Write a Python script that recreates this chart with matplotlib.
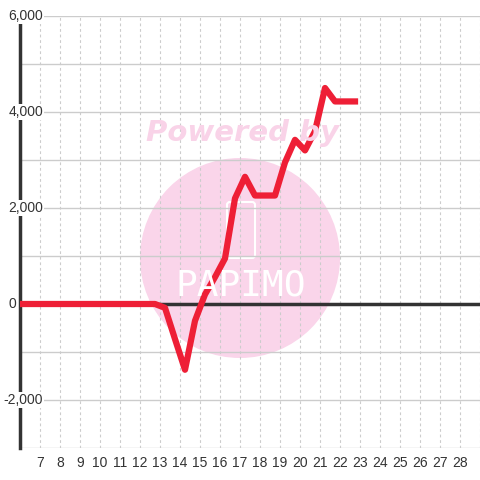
import numpy as np
import matplotlib.pyplot as plt
from matplotlib.patches import Ellipse, FancyBboxPatch

# data
xs = [5.75, 6.25, 6.75, 7.25, 7.75, 8.25, 8.75, 9.25, 9.75, 10.25, 10.75, 11.25,
      11.75, 12.25, 12.75, 13.25, 13.75, 14.25, 14.75, 15.25, 15.75, 16.25,
      16.75, 17.25, 17.75, 18.25, 18.75, 19.25, 19.75, 20.25, 20.75, 21.25,
      21.75, 22.25, 22.75]
ys = [0, 0, 0, 0, 0, 0, 0, 0, 0, 0, 0, 0,
      0, 0, 0, -80, -730, -1370, -350, 200, 560, 950,
      2200, 2650, 2260, 2260, 2260, 2950, 3420, 3200, 3600, 4500,
      4220, 4220, 4220]
xticks = list(range(7, 29))
yticks = [-2000, 0, 2000, 4000, 6000]
ylabels = ['-2,000', '0', '2,000', '4,000', '6,000']

plt.rcParams['font.family'] = ['Liberation Sans', 'DejaVu Sans']

fig = plt.figure(figsize=(4.8, 4.8), dpi=100)
ax = fig.add_axes([20/480, 32/480, 460/480, 432/480])
ax.set_xlim(6, 29)
ax.set_ylim(-3000, 6000)

# watermark
ax.add_patch(Ellipse((240/480, 1 - 258/480), 200/480, 200/480,
                     transform=fig.transFigure, color='#fad5ea', zorder=0.2, lw=0))
ax.add_patch(FancyBboxPatch((227/480, 1 - 258/480), 28/480, 56/480,
                            boxstyle='round,pad=0,rounding_size=0.006',
                            transform=fig.transFigure, fill=False, ec='white',
                            lw=1.5, zorder=0.3))
fig.text(242/480, 1 - 133/480, 'Powered by', color='#f9d3e8', fontsize=21,
         fontweight='heavy', style='italic', family='DejaVu Sans',
         ha='center', va='center', zorder=0.3)
fig.text(241/480, 1 - 286/480, 'PAPIMO', color='white', fontsize=26,
         family='DejaVu Sans Mono', ha='center', va='center', zorder=0.3)

# grid
for v in range(-3000, 6001, 1000):
    ax.axhline(v, color='#cccccc', lw=1, zorder=0.5)
for v in range(7, 30):
    ax.axvline(v, color='#cccccc', lw=0.8, ls=(0, (2.5, 2.5)), zorder=0.5)

ax.axhline(0, color='#333333', lw=2.5, zorder=1)
ax.plot(xs, ys, color='#ee1f36', lw=4.5, solid_joinstyle='round',
        solid_capstyle='projecting', zorder=3)

for s in ['top', 'right', 'bottom']:
    ax.spines[s].set_visible(False)
ax.spines['left'].set_color('#333333')
ax.spines['left'].set_linewidth(2.5)
ax.spines['left'].set_bounds(-3000, 5830)
ax.spines['left'].set_zorder(2)

ax.set_xticks(xticks)
ax.set_xticklabels([str(t) for t in xticks], fontsize=10, color='#333333')
ax.tick_params(axis='x', length=0, pad=6)
ax.set_yticks([])

for v, lab in zip(yticks, ylabels):
    xr = 5.8 if lab == '0' else 7.15
    ax.text(xr, v, lab, ha='right', va='center', fontsize=10, color='#333333',
            zorder=4, clip_on=False,
            bbox=dict(boxstyle='square,pad=0.1', fc='white', ec='none'))

fig.savefig('out.png', dpi=100)
